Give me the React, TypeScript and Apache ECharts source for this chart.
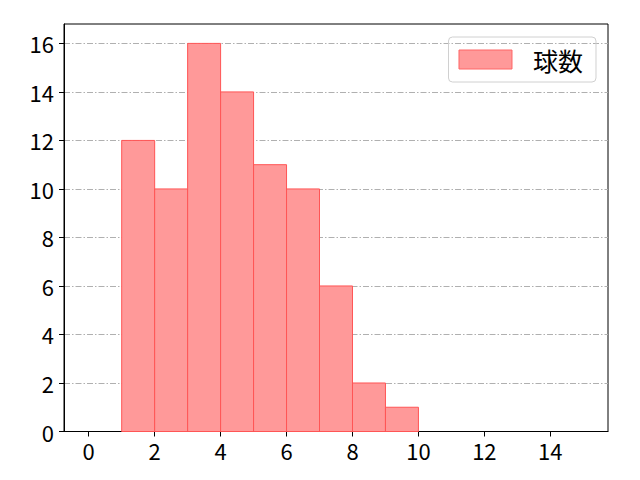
import React, { useEffect, useRef } from 'react';
import * as echarts from 'echarts';

// histogram bins (left edge, right edge) and counts
const binStarts = [1, 2, 3, 4, 5, 6, 7, 8, 9];
const binEnds = [2, 3, 4, 5, 6, 7, 8, 9, 10];
const counts = [12, 10, 16, 14, 11, 10, 6, 2, 1];
const xTicks = [0, 2, 4, 6, 8, 10, 12, 14];
const yTicks = [0, 2, 4, 6, 8, 10, 12, 14, 16];
const seriesName = '球数';

const FONT = '"Noto Sans CJK JP", "Noto Sans", sans-serif';

export default function App() {
    const chartRef = useRef<HTMLDivElement>(null);

    useEffect(() => {
        const chart = echarts.init(chartRef.current!, null, { renderer: 'svg' });

        const data = binStarts.map((s, i) => [s, binEnds[i], counts[i]]);

        chart.setOption({
            animation: false,
            textStyle: { fontFamily: FONT },
            grid: {
                left: 64,
                right: 32,
                top: 24,
                bottom: 48.5,
                show: true,
                borderColor: '#000',
                borderWidth: 1,
                backgroundColor: 'transparent',
            },
            legend: {
                data: [seriesName],
                right: 44,
                top: 37,
                icon: 'rect',
                itemWidth: 53,
                itemHeight: 19,
                padding: [10, 13, 10, 10],
                borderColor: '#d0d0d0',
                borderWidth: 1,
                borderRadius: 4,
                itemStyle: { color: '#ff9999', borderColor: '#ff6666', borderWidth: 1 },
                textStyle: {
                    fontSize: 25,
                    color: '#000',
                    fontFamily: FONT,
                    padding: [0, 0, 0, 16],
                },
            },
            xAxis: {
                type: 'value',
                min: -0.75,
                max: 15.75,
                splitLine: { show: false },
                axisLine: { show: true, onZero: false, lineStyle: { color: '#000', width: 1 } },
                axisTick: {
                    show: true,
                    customValues: xTicks,
                    length: 5,
                    lineStyle: { color: '#000' },
                },
                axisLabel: {
                    customValues: xTicks,
                    fontSize: 22,
                    color: '#000',
                    margin: 7,
                    fontFamily: FONT,
                },
            },
            yAxis: {
                type: 'value',
                min: 0,
                max: 16.8,
                axisLine: { show: true, onZero: false, lineStyle: { color: '#000', width: 1 } },
                axisTick: {
                    show: true,
                    customValues: yTicks,
                    length: 5,
                    lineStyle: { color: '#000' },
                },
                axisLabel: {
                    customValues: yTicks,
                    fontSize: 22,
                    color: '#000',
                    margin: 10,
                    fontFamily: FONT,
                },
                splitLine: {
                    show: true,
                    lineStyle: { color: '#b0b0b0', width: 1, type: [6, 2, 1.5, 2] },
                },
            },
            series: [
                {
                    name: seriesName,
                    type: 'custom',
                    itemStyle: { color: '#ff9999', borderColor: '#ff6666' },
                    encode: { x: [0, 1], y: 2 },
                    data,
                    renderItem: (params: any, api: any) => {
                        const p0 = api.coord([api.value(0), api.value(2)]);
                        const p1 = api.coord([api.value(1), 0]);
                        return {
                            type: 'rect',
                            shape: {
                                x: p0[0],
                                y: p0[1],
                                width: p1[0] - p0[0],
                                height: p1[1] - p0[1],
                            },
                            style: { fill: '#ff9999', stroke: '#ff5555', lineWidth: 1 },
                        };
                    },
                },
            ],
        });

        return () => {
            chart.dispose();
        };
    }, []);

    return <div ref={chartRef} style={{ width: 640, height: 480, margin: -8 }} />;
}
